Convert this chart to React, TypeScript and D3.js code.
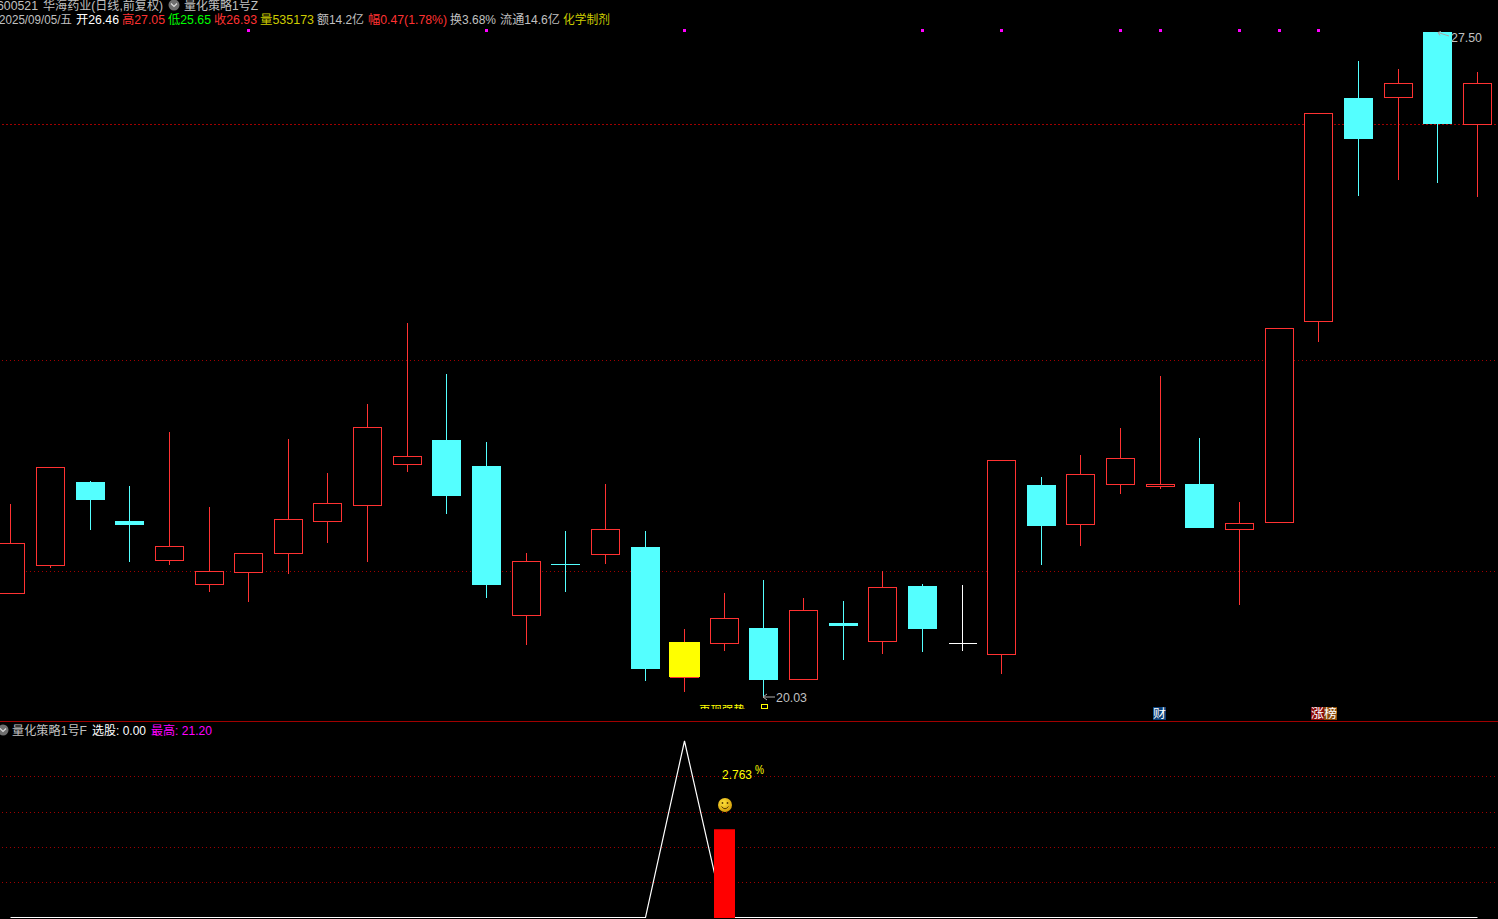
import { scaleLinear, line } from "d3";

const width = 1498
const height = 919

// index 0 is the oldest visible day
const opens = [21.20, 21.51, 22.44, 22.01, 21.57, 21.30, 21.43, 21.65, 22.01, 22.19, 22.65, 22.92, 22.62, 20.95, 21.52, 21.63, 21.71, 20.25, 20.64, 20.80, 20.23, 20.86, 20.66, 21.28, 20.64, 20.51, 22.41, 21.97, 22.42, 22.40, 22.42, 21.92, 21.99, 24.25, 26.76, 26.77, 27.50, 26.46]
const highs = [22.20, 22.61, 22.45, 22.40, 23.00, 22.16, 21.65, 22.93, 22.55, 23.32, 24.23, 23.66, 22.89, 21.65, 21.89, 22.42, 21.89, 20.79, 21.20, 21.34, 21.14, 21.11, 21.44, 21.30, 21.29, 22.69, 22.50, 22.75, 23.05, 23.63, 22.94, 22.22, 24.17, 26.59, 27.17, 27.08, 27.50, 27.05]
const lows = [21.20, 21.48, 21.90, 21.54, 21.51, 21.21, 21.10, 21.41, 21.76, 21.54, 22.56, 22.08, 21.14, 20.61, 21.21, 21.52, 20.21, 20.08, 20.55, 20.03, 20.23, 20.44, 20.51, 20.53, 20.55, 20.29, 21.51, 21.72, 22.31, 22.37, 21.93, 21.06, 21.99, 24.02, 25.66, 25.84, 25.80, 25.65]
const closes = [21.76, 22.61, 22.24, 21.96, 21.72, 21.44, 21.65, 22.03, 22.21, 23.06, 22.73, 22.29, 21.29, 21.56, 21.51, 21.92, 20.34, 20.65, 20.92, 20.22, 21.01, 20.83, 21.26, 20.79, 20.64, 22.69, 21.95, 22.53, 22.71, 22.42, 21.93, 21.98, 24.17, 26.59, 26.30, 26.92, 26.46, 26.93]

const yellowDay = 17
const signalDays = [6, 12, 17, 23, 25, 28, 29, 31, 32, 33]
const priceGrid = [26.46, 23.81, 21.44]

const pickValues = [0, 0, 0, 0, 0, 0, 0, 0, 0, 0, 0, 0, 0, 0, 0, 0, 0, 21.2, 0, 0, 0, 0, 0, 0, 0, 0, 0, 0, 0, 0, 0, 0, 0, 0, 0, 0, 0, 0]
const barDay = 18
const barValue = 10.6
const lowerGrid = [4.24, 8.48, 12.72, 16.96]

const RED = "#ff3232"
const CYAN = "#54ffff"
const GRID = "#a00000"
const GRAY = "#c0c0c0"
const OLIVE = "#cccc00"
const FONT = "Liberation Sans, 'Noto Sans CJK SC', sans-serif"

const xScale = scaleLinear().domain([0, 37]).range([10.95, 1477.27])
const yScale = scaleLinear().domain([20.03, 27.5]).range([696.85, 31.85])
const lowerY = scaleLinear().domain([0, 21.2]).range([917.5, 741])

const cx = (i: number) => Math.floor(xScale(i)) + 0.5
const py = (v: number) => Math.round(yScale(v)) + 0.5

const Txt = ({ x, y, w, fill, size = 12, children }: any) => (
  <text x={x} y={y} fill={fill} fontSize={size} textLength={w} lengthAdjust="spacingAndGlyphs" fontFamily={FONT}>
    {children}
  </text>
)

const Chevron = ({ x, y }: { x: number; y: number }) => (
  <g>
    <circle cx={x} cy={y} r={5.5} fill="#6e6e6e" />
    <path d={`M${x - 3} ${y - 1.5}L${x} ${y + 1.5}L${x + 3} ${y - 1.5}`} fill="none" stroke="#ddd" strokeWidth={1.2} />
  </g>
)

const Candle = ({ i }: { i: number }) => {
  const x = cx(i)
  const o = opens[i]
  const c = closes[i]
  const top = py(Math.max(o, c))
  const bottom = py(Math.min(o, c))
  const up = c > o
  const flat = c === o
  const color = flat ? "#ffffff" : up ? RED : CYAN
  return (
    <g shapeRendering="crispEdges">
      <line x1={x} x2={x} y1={py(highs[i]) - 0.5} y2={py(lows[i]) - 0.5} stroke={color} />
      {flat ? (
        <line x1={x - 14} x2={x + 14} y1={top} y2={top} stroke={color} />
      ) : up ? (
        <rect x={x - 14} y={top} width={28} height={bottom - top} fill="#000" stroke={color} />
      ) : (
        <rect x={x - 14.5} y={top - 0.5} width={29} height={Math.max(bottom - top, 1)} fill={color} />
      )}
    </g>
  )
}

export default function App() {
  const pickLine = line<number>()
    .x((_, i) => cx(i))
    .y((d) => lowerY(d))

  const yTop = py(closes[yellowDay])
  const yBottom = py(opens[yellowDay])

  return (
    <div style={{ position: "fixed", left: 0, top: 0, width, height, background: "#000", overflow: "hidden" }}>
      <svg width={width} height={height} viewBox={`0 0 ${width} ${height}`} style={{ display: "block" }}>
        <defs>
          <clipPath id="cutoff">
            <rect x={690} y={704} width={70} height={5} />
          </clipPath>
          <radialGradient id="smile" cx="40%" cy="35%" r="70%">
            <stop offset="0%" stopColor="#ffe23a" />
            <stop offset="100%" stopColor="#d09a08" />
          </radialGradient>
        </defs>
        <rect width={width} height={height} fill="#000" />

        {/* price pane grid */}
        {priceGrid.map((p, i) => (
          <line key={p} x1={2} x2={width} y1={py(p)} y2={py(p)} stroke={GRID} strokeDasharray={i === 0 ? "2 2" : "1 3"} shapeRendering="crispEdges" />
        ))}
        <line x1={0} x2={width} y1={721.5} y2={721.5} stroke={GRID} shapeRendering="crispEdges" />

        {signalDays.map((d) => (
          <rect key={d} x={cx(d) - 1.5} y={29} width={3} height={3} fill="#ff00ff" />
        ))}

        {opens.map((_, i) => (
          <Candle key={i} i={i} />
        ))}
        <rect x={cx(yellowDay) - 15.5} y={yTop - 0.5} width={31} height={yBottom - yTop} fill="#ffff00" shapeRendering="crispEdges" />

        {/* high and low notes */}
        <path d="M1438 32.5L1449 36M1438 32.5l3 -1M1438 32.5l2 3" stroke="#a8a8a8" fill="none" />
        <Txt x={1451} y={42} w={31} fill={GRAY}>27.50</Txt>
        <path d="M763 697H775M763 697l4 -3M763 697l4 3" stroke="#b0b0b0" fill="none" />
        <Txt x={776} y={702} w={31} fill={GRAY}>20.03</Txt>

        {/* labels cut off by the pane border */}
        <g clipPath="url(#cutoff)">
          <Txt x={699} y={715} w={46} fill="#ffff00">再现强势</Txt>
        </g>
        <rect x={761.5} y={704.5} width={6} height={3.5} fill="none" stroke="#ffff00" shapeRendering="crispEdges" />

        <rect x={1153} y={707} width={13} height={13} fill="#0c3f78" />
        <Txt x={1153} y={718} w={13} fill="#fff">财</Txt>
        <rect x={1311} y={707} width={13} height={13} fill="#8a0a0a" />
        <rect x={1324} y={707} width={13} height={13} fill="#8a4a08" />
        <Txt x={1311} y={718} w={13} fill="#fff">涨</Txt>
        <Txt x={1324} y={718} w={13} fill="#fff">榜</Txt>

        {/* header */}
        <Txt x={-3} y={10} w={41} fill={GRAY}>600521</Txt>
        <Txt x={43} y={10} w={120} fill={GRAY}>华海药业(日线,前复权)</Txt>
        <Chevron x={174} y={5} />
        <Txt x={184} y={10} w={74} fill={GRAY}>量化策略1号Z</Txt>

        <Txt x={-1} y={24} w={73} fill={GRAY}>2025/09/05/五</Txt>
        <Txt x={76} y={24} w={43} fill="#fff">开26.46</Txt>
        <Txt x={122} y={24} w={43} fill={RED}>高27.05</Txt>
        <Txt x={168} y={24} w={43} fill="#00ff00">低25.65</Txt>
        <Txt x={214} y={24} w={43} fill={RED}>收26.93</Txt>
        <Txt x={260} y={24} w={54} fill={OLIVE}>量535173</Txt>
        <Txt x={317} y={24} w={47} fill={GRAY}>额14.2亿</Txt>
        <Txt x={368} y={24} w={79} fill={RED}>幅0.47(1.78%)</Txt>
        <Txt x={450} y={24} w={46} fill={GRAY}>换3.68%</Txt>
        <Txt x={500} y={24} w={60} fill={GRAY}>流通14.6亿</Txt>
        <Txt x={563} y={24} w={47} fill={OLIVE}>化学制剂</Txt>

        {/* lower pane */}
        <Chevron x={3} y={730} />
        <Txt x={12} y={735} w={75} fill={GRAY}>量化策略1号F</Txt>
        <Txt x={92} y={735} w={54} fill="#fff">选股: 0.00</Txt>
        <Txt x={151} y={735} w={61} fill="#ff00ff">最高: 21.20</Txt>

        {lowerGrid.map((g) => (
          <line key={g} x1={2} x2={width} y1={Math.round(lowerY(g)) + 0.5} y2={Math.round(lowerY(g)) + 0.5} stroke={GRID} strokeDasharray="1 3" shapeRendering="crispEdges" />
        ))}
        <path d={pickLine(pickValues) ?? ""} fill="none" stroke="#fff" strokeWidth={1.2} />
        <rect x={cx(barDay) - 10.5} y={lowerY(barValue)} width={21} height={918 - lowerY(barValue)} fill="#ff0000" />

        <Txt x={722} y={779} w={30} fill="#ffff00">2.763</Txt>
        <Txt x={755} y={774} w={9} fill="#ffff00">%</Txt>
        <circle cx={725} cy={805} r={7} fill="url(#smile)" />
        <circle cx={722.5} cy={803} r={0.9} fill="#5a3c00" />
        <circle cx={727.5} cy={803} r={0.9} fill="#5a3c00" />
        <path d="M721.5 806.5Q725 811 728.5 806.5" fill="none" stroke="#5a3c00" strokeWidth={1} />
      </svg>
    </div>
  )
}
